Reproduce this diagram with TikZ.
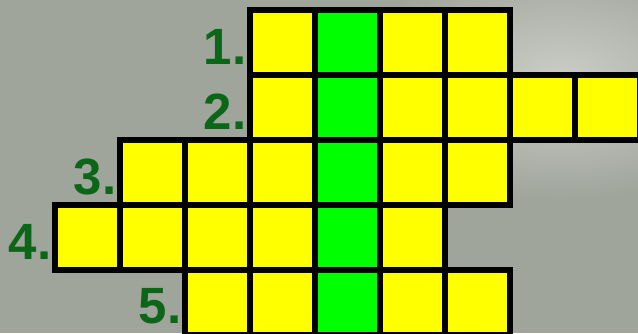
\documentclass[tikz,border=0pt]{standalone}
\usepackage{fontspec}
\setmainfont{Liberation Sans}
\usetikzlibrary{positioning}
\definecolor{bggrey}{RGB}{160,165,156}
\definecolor{bglight}{RGB}{204,206,198}
\definecolor{cellyellow}{RGB}{255,255,0}
\definecolor{keygreen}{RGB}{0,255,0}
\definecolor{labelgreen}{RGB}{12,102,24}
\tikzset{
cell/.style={draw,line width=6pt,fill=cellyellow,minimum size=65pt,inner sep=0pt,outer sep=0pt},
col4/.style={fill=keygreen},
rowlabel/.style={text=labelgreen,font=\fontsize{51}{51}\selectfont\bfseries,inner sep=0pt,outer sep=0pt}
}
\begin{document}
\begin{tikzpicture}[x=1pt,y=-1pt]
\useasboundingbox (0,0) rectangle (638,333);
\clip (0,0) rectangle (638,333);
\fill[bggrey] (0,0) rectangle (638,333);
\shade[inner color=bglight,outer color=bggrey] (560,80) ellipse (210 and 120);
% rows: number / first column / last column
\foreach \r/\first/\last in {1/3/6,2/3/8,3/1/6,4/0/5,5/2/6}{
  \foreach \c in {\first,...,\last}
    \node[cell,col\c/.try] (c\r-\c) at (87.5+65*\c,-22.5+65*\r) {};
  \node[rowlabel,left=3.5pt of c\r-\first.west,yshift=-4pt] (n\r) {\r.};
}
\end{tikzpicture}
\end{document}
